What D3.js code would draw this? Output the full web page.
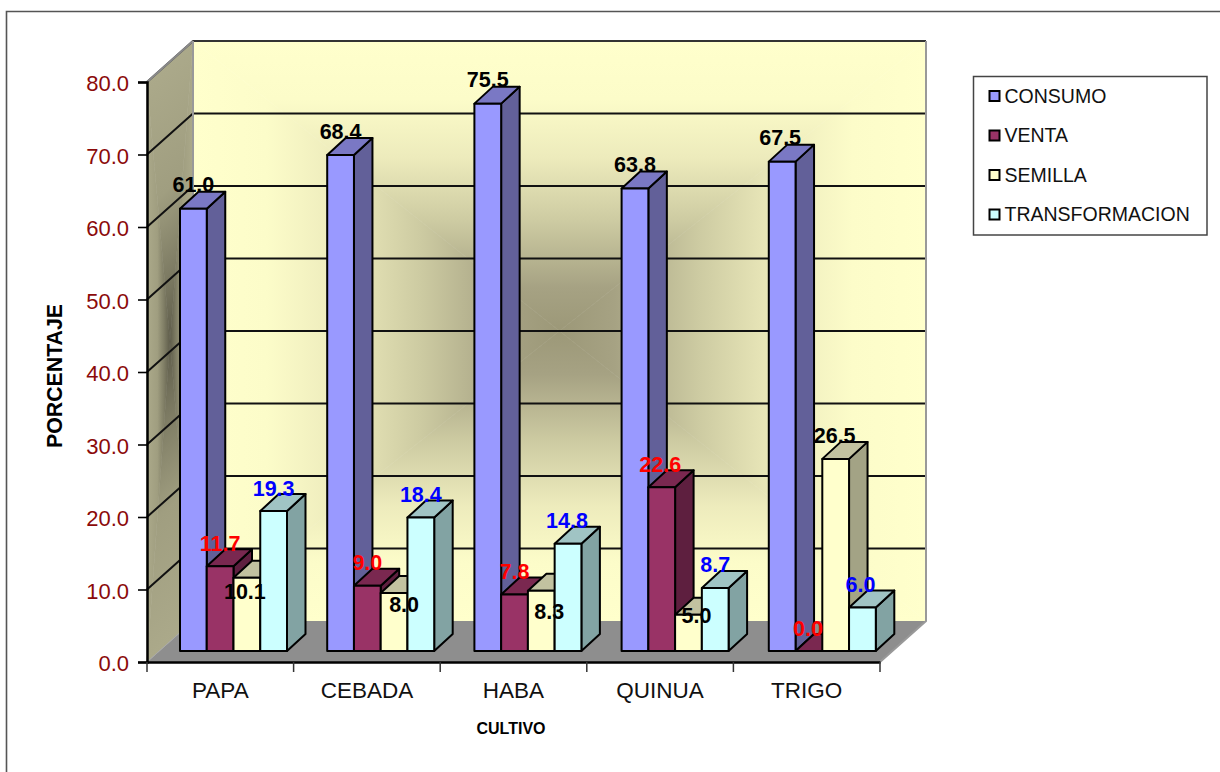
<!DOCTYPE html>
<html><head><meta charset="utf-8">
<script src="https://cdn.jsdelivr.net/npm/d3@7"></script>
<style>html,body{margin:0;padding:0;background:#fff}svg{display:block}text{font-family:"Liberation Sans",Arial,sans-serif}</style>
</head><body><div id="c"></div>
<script>
const categories = ["PAPA","CEBADA","HABA","QUINUA","TRIGO"];
const seriesNames = ["CONSUMO","VENTA","SEMILLA","TRANSFORMACION"];
const consumo = [61.0,68.4,75.5,63.8,67.5];
const venta = [11.7,9.0,7.8,22.6,0.0];
const semilla = [10.1,8.0,8.3,5.0,26.5];
const transformacion = [19.3,18.4,14.8,8.7,6.0];
const yTicks = [0,10,20,30,40,50,60,70,80];

const W=1220,H=772;
const svg=d3.select("#c").append("svg").attr("width",W).attr("height",H);
const defs=svg.append("defs");

const x0=147,x1=880,yB=662,yT=82,wallDx=46,wallDy=-41;
const y=d3.scaleLinear().domain([0,80]).range([yB,yT]);
const x=d3.scaleBand().domain(categories).range([x0,x1]);
const xBars=d3.scaleBand().domain(categories).range([x0,x0+5*147.2]);
const barInset=33, barW=26.75, barLift=11, dDx=18.5, dDy=-17;
const sx=d3.scaleBand().domain(seriesNames).range([barInset,barInset+barW*4]);

// frame
svg.append("path").attr("d",`M${W},11.5H6.5V${H}`).attr("fill","none").attr("stroke","#555").attr("stroke-width",1.6);

let gid=0;
function pathGradientQuad(pts,c,stops){
  pts.forEach((a,i)=>{
    const b=pts[(i+1)%4];
    const ex=b[0]-a[0],ey=b[1]-a[1],t=((c[0]-a[0])*ex+(c[1]-a[1])*ey)/(ex*ex+ey*ey);
    const fx=a[0]+t*ex,fy=a[1]+t*ey;
    const id="g"+(gid++);
    const g=defs.append("linearGradient").attr("id",id).attr("gradientUnits","userSpaceOnUse")
      .attr("x1",fx).attr("y1",fy).attr("x2",c[0]).attr("y2",c[1]);
    stops.forEach(s=>g.append("stop").attr("offset",s[0]).attr("stop-color",s[1]));
    svg.append("path").attr("d",`M${a}L${b}L${c}Z`).attr("fill",`url(#${id})`).attr("stroke",`url(#${id})`).attr("stroke-width",0.6);
  });
}
// back wall
const bl=x0+wallDx, br=x1+wallDx, bt=yT+wallDy, bb=yB+wallDy;
pathGradientQuad([[bl,bt],[br,bt],[br,bb],[bl,bb]],[(bl+br)/2,(bt+bb)/2],
  [[0,"#FFFFCC"],[0.2,"#FCFCC9"],[0.4,"#EDEBBC"],[0.62,"#CDCBA2"],[0.85,"#A6A283"],[1,"#9C9878"]]);
// side wall
pathGradientQuad([[x0,yT],[bl,bt],[bl,bb],[x0,yB]],[x0+wallDx/2,(yT+yB+wallDy)/2-10],
  [[0,"#ABA98A"],[0.45,"#A09E80"],[0.75,"#7E7C64"],[1,"#5E5C4A"]]);
// floor
svg.append("path").attr("d",`M${x0},${yB}L${bl},${bb}L${br},${bb}L${x1},${yB}Z`).attr("fill","#8E8E8E");

// gridlines
const grid=svg.append("g").attr("fill","none").attr("stroke","#111").attr("stroke-width",2);
yTicks.filter(t=>t>0).forEach(t=>{
  const yy=y(t);
  grid.append("path").attr("d",`M${x0},${yy}L${bl},${yy+wallDy}L${br},${yy+wallDy}`)
    .attr("stroke",t===80?"#333":"#111");
});
// wall edges
svg.append("path").attr("d",`M${x0},${yT}L${bl},${bt}`).attr("fill","none").attr("stroke","#8a8a8a").attr("stroke-width",2);
svg.append("path").attr("d",`M${bl},${bt}V${bb}`).attr("fill","none").attr("stroke","#999").attr("stroke-width",2);
svg.append("path").attr("d",`M${br},${bt}V${bb}L${x1},${yB}`).attr("fill","none").attr("stroke","#999").attr("stroke-width",2);
svg.append("path").attr("d",`M${x0},${yB}L${bl},${bb}`).attr("fill","none").attr("stroke","#aaa").attr("stroke-width",1);

// bars
const seriesValues=[consumo,venta,semilla,transformacion];
const fronts=["#9999FF","#993366","#FFFFCC","#CCFFFF"];
const sides=["#626099","#5E1F3F","#A3A385","#82A3A3"];
const tops=["#7A78C4","#7A2850","#C2C2A0","#A0C4C4"];
const labelColors=["#000","#FF0000","#000","#0000FF"];
const labelDX=[[0,0,-2,0],[0,0,10,0],[0,0,8,-1],[0,-1.5,8,0],[-2,-1,-1,-2]];
const labelDY=[[-17,-16,21,-16],[-17,-16,18,-16],[-17,-16,28,-16],[-17,-16,8,-16],[-17,-16,-16,-16]];
const bars=svg.append("g").attr("stroke","#000").attr("stroke-width",2).attr("stroke-linejoin","round");
categories.forEach((cat)=>{
  seriesNames.forEach((s,si)=>{
    const v=seriesValues[si][categories.indexOf(cat)];
    const L=xBars(cat)+sx(s),R=L+barW,T=y(v)-barLift,B=y(0)-barLift;
    bars.append("path").attr("d",`M${R},${B}L${R+dDx},${B+dDy}L${R+dDx},${T+dDy}L${R},${T}Z`).attr("fill",sides[si]);
    bars.append("path").attr("d",`M${L},${T}L${L+dDx},${T+dDy}L${R+dDx},${T+dDy}L${R},${T}Z`).attr("fill",tops[si]);
    if(v>0) bars.append("rect").attr("x",L).attr("y",T).attr("width",barW).attr("height",B-T).attr("fill",fronts[si]);
  });
});

// axes
const gy=svg.append("g").attr("transform",`translate(${x0},0)`)
  .call(d3.axisLeft(y).tickValues(yTicks).tickFormat(d3.format(".1f")).tickSize(9).tickPadding(9));
gy.select(".domain").attr("stroke","#000").attr("stroke-width",2.5);
gy.selectAll(".tick line").attr("stroke","#000").attr("stroke-width",1.6);
gy.selectAll("text").attr("fill","#8B0A0A").attr("dy","0.39em").style("font-size","22px").style("font-family",'"Liberation Sans"');
const gx=svg.append("g").attr("transform",`translate(0,${yB})`)
  .call(d3.axisBottom(x).tickSize(0).tickPadding(20));
gx.select(".domain").attr("stroke","#000").attr("stroke-width",2.5);
gx.selectAll("text").attr("fill","#111").style("font-size","22.5px").style("font-family",'"Liberation Sans"');
const tickX=categories.map(c=>x(c)).concat([x1]);
svg.append("g").selectAll("line").data(tickX).join("line")
  .attr("x1",d=>d).attr("x2",d=>d).attr("y1",yB).attr("y2",yB+10).attr("stroke","#333").attr("stroke-width",1.5);

// data labels
const lab=svg.append("g").attr("text-anchor","middle").attr("font-weight","bold").attr("font-size",21.5);
categories.forEach((cat,ci)=>{
  seriesNames.forEach((s,si)=>{
    const v=seriesValues[si][ci];
    lab.append("text").attr("x",xBars(cat)+sx(s)+barW/2+labelDX[ci][si]).attr("y",y(v)-barLift+labelDY[ci][si]+0.5)
      .attr("fill",labelColors[si]).text(d3.format(".1f")(v));
  });
});

// axis titles
svg.append("text").attr("transform","translate(61.5,376) rotate(-90)").attr("text-anchor","middle")
  .attr("font-weight","bold").attr("font-size",21.3).attr("fill","#000").text("PORCENTAJE");
svg.append("text").attr("x",511).attr("y",734).attr("text-anchor","middle")
  .attr("font-weight","bold").attr("font-size",16).attr("fill","#000").text("CULTIVO");

// legend
const lg=svg.append("g");
lg.append("rect").attr("x",973.5).attr("y",76.5).attr("width",233.5).attr("height",158.5).attr("fill","#fff").attr("stroke","#444").attr("stroke-width",1.5);
const ly=d3.scalePoint().domain(seriesNames).range([96,214.5]);
seriesNames.forEach((s,i)=>{
  lg.append("rect").attr("x",989.5).attr("y",ly(s)-5).attr("width",10).attr("height",10).attr("fill",fronts[i]).attr("stroke","#000").attr("stroke-width",2);
  lg.append("text").attr("x",1004.5).attr("y",ly(s)+6.5).attr("font-size",19.5).attr("fill","#111").text(s);
});
</script></body></html>
